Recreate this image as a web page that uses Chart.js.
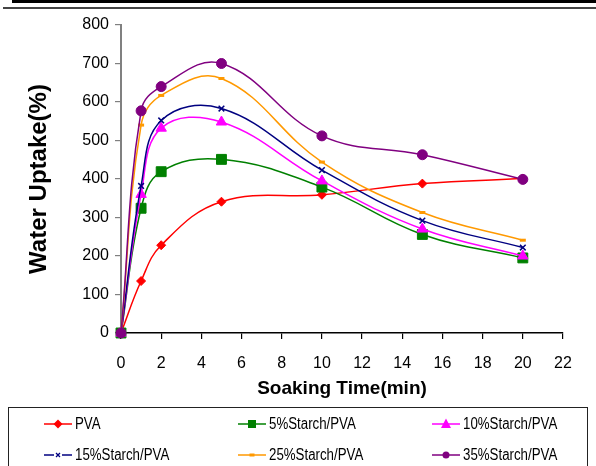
<!DOCTYPE html>
<html>
<head>
<meta charset="utf-8">
<script src="https://cdn.jsdelivr.net/npm/chart.js@4.4.1/dist/chart.umd.min.js"></script>
<style>
  html, body { margin: 0; padding: 0; background: #fff; }
  #wrap { position: relative; width: 596px; height: 466px; overflow: hidden; background: #fff; }
  #c { position: absolute; left: 0; top: 0; }
  .rule1 { position: absolute; left: 12px; right: 0; top: 0; height: 3px; background: #000; }
  .rule2 { position: absolute; left: 3px; right: 0; top: 7px; height: 2px; background: #444; }
  #legend { position: absolute; left: 8px; top: 407px; width: 580px; height: 80px; border: 1.5px solid #222; box-sizing: border-box; }
  .item { position: absolute; display: flex; align-items: center; height: 20px; white-space: nowrap; color: #000; }
  .item svg { display: block; margin-right: 3px; flex: none; }
  .item span { display: inline-block; transform: scaleX(0.83); transform-origin: left center; }
</style>
</head>
<body>
<div id="wrap">
  <div class="rule1"></div>
  <div class="rule2"></div>
  <canvas id="c" width="596" height="466"></canvas>
  <div id="legend"></div>
</div>
<script>
// ---- data ----
const soakingTime = [0, 1, 2, 5, 10, 15, 20];
const seriesNames = ['PVA', '5%Starch/PVA', '10%Starch/PVA', '15%Starch/PVA', '25%Starch/PVA', '35%Starch/PVA'];
const pva     = [0, 135, 228, 341, 359, 388, 401];
const starch5  = [0, 324, 419, 451, 379, 256, 195];
const starch10 = [0, 360, 532, 548, 395, 270, 200];
const starch15 = [0, 382, 552, 583, 423, 292, 222];
const starch25 = [0, 540, 617, 661, 444, 313, 241];
const starch35 = [0, 577, 640, 700, 512, 463, 399];
const xTicks = [0, 2, 4, 6, 8, 10, 12, 14, 16, 18, 20, 22];
const yTicks = [0, 100, 200, 300, 400, 500, 600, 700, 800];

// ---- styles ----
const colors = ['#FF0000', '#008000', '#FF00FF', '#000080', '#FF9900', '#800080'];
const pointStyles = ['rectRot', 'rect', 'triangle', 'crossRot', 'line', 'circle'];
const pointRadii = [4.5, 7, 6, 4, 3, 5];
const pointBorders = [1, 1, 1, 1.5, 3, 1];
const allSeries = [pva, starch5, starch10, starch15, starch25, starch35];

const REG = '"Liberation Sans", Arial, sans-serif';

const datasets = allSeries.map((vals, i) => ({
  label: seriesNames[i],
  data: vals.map((v, k) => ({ x: soakingTime[k], y: v })),
  borderColor: colors[i],
  backgroundColor: colors[i],
  borderWidth: 1.5,
  pointStyle: pointStyles[i],
  pointRadius: pointRadii[i],
  pointBackgroundColor: colors[i],
  pointBorderColor: colors[i],
  pointBorderWidth: pointBorders[i],
  tension: 0.4,
  fill: false,
  clip: false,
  order: allSeries.length - i
}));

new Chart(document.getElementById('c'), {
  type: 'line',
  data: { datasets },
  options: {
    responsive: false,
    animation: false,
    devicePixelRatio: 1,
    layout: { padding: { left: 0, top: 25, right: 33, bottom: 66 } },
    plugins: { legend: { display: false }, tooltip: { enabled: false } },
    scales: {
      x: {
        type: 'linear', min: xTicks[0], max: xTicks[xTicks.length - 1],
        afterBuildTicks: s => { s.ticks = xTicks.map(v => ({ value: v })); },
        afterFit: s => { s.height = 67; },
        ticks: { color: '#000', font: { family: REG, size: 16 }, padding: 15, maxRotation: 0 },
        grid: { drawOnChartArea: false, drawTicks: true, tickLength: 6, color: '#000', lineWidth: 1.2 },
        border: { display: true, color: '#000', width: 1.5 },
        title: { display: true, text: 'Soaking Time(min)', color: '#000',
          font: { family: REG, size: 19, weight: 'bold' },
          padding: { top: 1, bottom: 0 } }
      },
      y: {
        type: 'linear', min: yTicks[0], max: yTicks[yTicks.length - 1],
        afterBuildTicks: s => { s.ticks = yTicks.map(v => ({ value: v })); },
        afterFit: s => { s.width = 121; },
        ticks: { color: '#000', font: { family: REG, size: 16 }, padding: 6 },
        grid: { drawOnChartArea: false, drawTicks: true, tickLength: 6, color: '#808080', lineWidth: 1.2 },
        border: { display: true, color: '#808080', width: 2 },
        title: { display: true, text: 'Water Uptake(%)', color: '#000',
          font: { family: REG, size: 24, weight: 'bold' }, padding: { top: 25, bottom: 0 } }
      }
    }
  }
});

// ---- legend (HTML) ----
function markerSvg(i) {
  const c = colors[i];
  let line = `<line x1="0" y1="7" x2="28" y2="7" stroke="${c}" stroke-width="1.5"/>`;
  let m = '';
  switch (pointStyles[i]) {
    case 'rectRot': m = `<polygon points="14,2.5 18.5,7 14,11.5 9.5,7" fill="${c}"/>`; break;
    case 'rect': m = `<rect x="10" y="3" width="8" height="8" fill="${c}"/>`; break;
    case 'triangle': m = `<polygon points="14,1.5 19,11 9,11" fill="${c}"/>`; break;
    case 'crossRot':
      line = `<line x1="0" y1="7" x2="10" y2="7" stroke="${c}" stroke-width="1.5"/><line x1="18" y1="7" x2="28" y2="7" stroke="${c}" stroke-width="1.5"/>`;
      m = `<path d="M12,5 L16,9 M16,5 L12,9" stroke="${c}" stroke-width="1.3"/>`; break;
    case 'line': m = `<line x1="11.5" y1="7" x2="16.5" y2="7" stroke="${c}" stroke-width="3"/>`; break;
    case 'circle': m = `<circle cx="14" cy="7" r="3.5" fill="${c}"/>`; break;
  }
  return `<svg width="28" height="14" viewBox="0 0 28 14">${line}${m}</svg>`;
}
const legendCols = [35, 229, 423];
const legendRows = [6, 37];
const lg = document.getElementById('legend');
seriesNames.forEach((name, i) => {
  const d = document.createElement('div');
  d.className = 'item';
  d.style.left = legendCols[i % 3] + 'px';
  d.style.top = legendRows[Math.floor(i / 3)] + 'px';
  d.style.font = `16px ${REG}`;
  d.innerHTML = markerSvg(i) + '<span>' + name + '</span>';
  lg.appendChild(d);
});
</script>
</body>
</html>
